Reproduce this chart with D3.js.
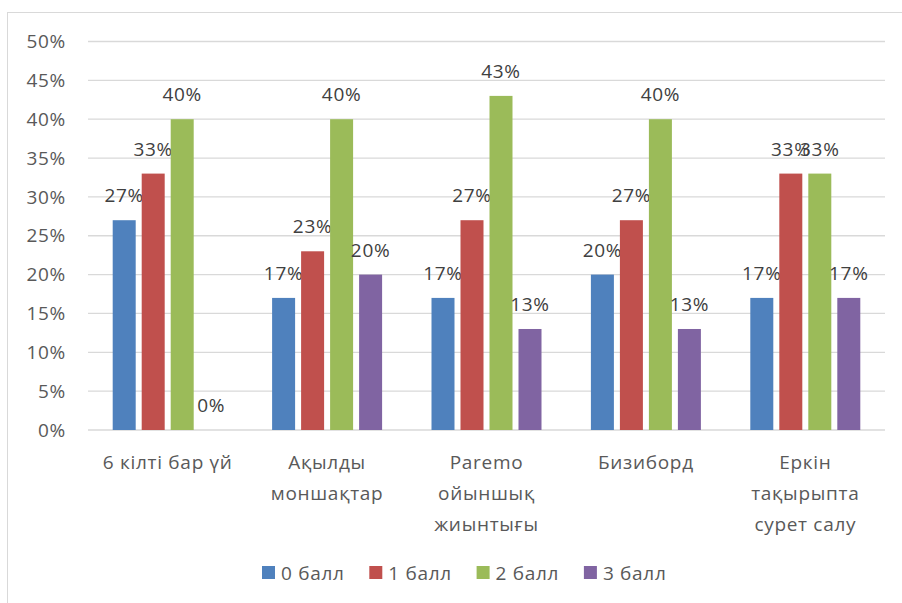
<!DOCTYPE html>
<html><head><meta charset="utf-8">
<script src="https://cdn.jsdelivr.net/npm/d3@7"></script>
<style>body{margin:0;background:#fff}svg{display:block}text{font-family:"Open Sans",sans-serif;fill:#595959;letter-spacing:0.7px}</style>
</head><body><svg id="c" width="902" height="603"></svg>
<script>
const categories = [["6 кілті бар үй"],["Ақылды","моншақтар"],["Paremo","ойыншық","жиынтығы"],["Бизиборд"],["Еркін","тақырыпта","сурет салу"]];
const seriesNames = ["0 балл","1 балл","2 балл","3 балл"];
const s0 = [27,17,17,20,17];
const s1 = [33,23,27,27,33];
const s2 = [40,40,43,40,33];
const s3 = [0,20,13,13,17];
const colors = ["#4F81BD","#C0504D","#9BBB59","#8064A2"];
const yTicks = [0,5,10,15,20,25,30,35,40,45,50];

const series = [s0,s1,s2,s3];
const svg = d3.select("#c");
svg.append("rect").attr("x",7.5).attr("y",12.5).attr("width",920).attr("height",620)
  .attr("fill","none").attr("stroke","#d9d9d9");

const x0 = d3.scaleBand().domain(d3.range(categories.length)).range([88,885]);
const y = d3.scaleLinear().domain([0,50]).range([430,41.5]);

// gridlines
svg.append("g").selectAll("line").data(yTicks).join("line")
  .attr("x1",88).attr("x2",885).attr("y1",d=>y(d)).attr("y2",d=>y(d))
  .attr("stroke","#d9d9d9").attr("stroke-width",1.3);

// y axis labels
svg.append("g").selectAll("text").data(yTicks).join("text")
  .attr("x",66).attr("y",d=>y(d)).attr("dy","0.35em").attr("text-anchor","end")
  .attr("font-size",19).text(d=>d+"%");

const barW = 23, gap = 6;
const groupW = 4*barW + 3*gap;
series.forEach((vals,si)=>{
  const g = svg.append("g");
  const bx = i => x0(i) + x0.bandwidth()/2 - groupW/2 + si*(barW+gap);
  g.selectAll("rect").data(vals).join("rect")
    .attr("x",(d,i)=>bx(i)).attr("width",barW)
    .attr("y",d=>y(d)).attr("height",d=>y(0)-y(d))
    .attr("fill",colors[si]);
  g.selectAll("text").data(vals).join("text")
    .attr("x",(d,i)=>bx(i)+barW/2).attr("y",d=>y(d)-18)
    .attr("text-anchor","middle").attr("font-size",19).style("fill","#404040").text(d=>d+"%");
});

// category labels
categories.forEach((lines,i)=>{
  const t = svg.append("text").attr("text-anchor","middle").attr("font-size",19)
    .attr("x",x0(i)+x0.bandwidth()/2).attr("y",469);
  lines.forEach((l,k)=>t.append("tspan").attr("x",x0(i)+x0.bandwidth()/2).attr("y",469+k*31).text(l));
});

// legend
const lg = svg.append("g");
seriesNames.forEach((n,i)=>{
  const lx = 262 + i*107.3;
  lg.append("rect").attr("x",lx).attr("y",566).attr("width",13).attr("height",13).attr("fill",colors[i]);
  lg.append("text").attr("x",lx+19).attr("y",573).attr("dy","0.35em").attr("font-size",19).text(n);
});
</script></body></html>
